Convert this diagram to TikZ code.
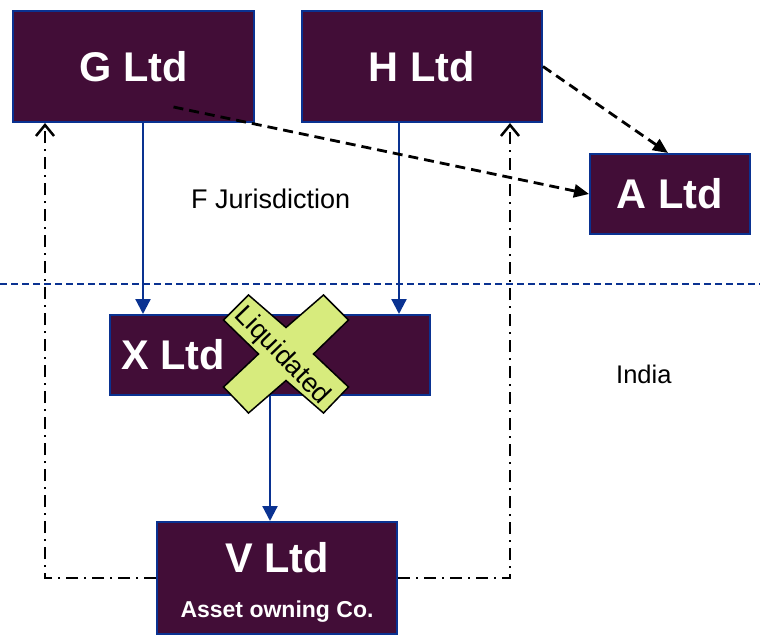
\documentclass[tikz,border=0pt]{standalone}
\usepackage{fontspec}
\setmainfont{Liberation Sans}
\usetikzlibrary{arrows.meta,calc}
\definecolor{boxfill}{RGB}{66,13,55}
\definecolor{navy}{RGB}{10,50,145}
\definecolor{lime}{RGB}{215,235,125}
\begin{document}
\begin{tikzpicture}[x=1pt,y=-1pt,
  entity/.style={draw=navy, line width=2pt, fill=boxfill, text=white,
    font=\fontsize{41.5}{41.5}\selectfont\bfseries, inner sep=0pt},
  own/.style={draw=navy, line width=2.2pt, -{Triangle[length=15pt,width=15pt]}},
  link/.style={black, line width=2.8pt, dash pattern=on 10pt off 6pt,
    -{Triangle[length=15pt,width=13pt]}},
  ctrl/.style={black, line width=2.5pt, dash pattern=on 12pt off 6pt on 2pt off 6pt,
    -{Straight Barb[length=11pt,width=18pt]}},
  note/.style={inner sep=0pt, anchor=base west}]
\useasboundingbox (0,0) rectangle (760,635);

% jurisdiction border
\draw[navy, line width=1.5pt, dash pattern=on 7pt off 4pt] (0,284) coordinate (bl) -- (760,284) coordinate (br);

% companies
\node[entity, minimum width=241pt, minimum height=111pt] (G) at (133.5,66.5) {G Ltd};
\node[entity, minimum width=240pt, minimum height=111pt] (H) at (422,66.5) {H Ltd};
\node[entity, minimum width=160pt, minimum height=80pt] (A) at (670,194) {A Ltd};
\node[entity, minimum width=320pt, minimum height=80pt] (X) at (270,355) {};
\node[text=white, font=\fontsize{41.5}{41.5}\selectfont\bfseries, inner sep=0pt,
  anchor=west] (Xl) at ([xshift=12pt]X.west) {X Ltd};
\node[entity, minimum width=240pt, minimum height=112pt] (V) at (277,578) {};
\node[text=white, font=\fontsize{41.5}{41.5}\selectfont\bfseries, inner sep=0pt]
  (Vl) at ([yshift=20pt]V.center) {V Ltd};
\node[text=white, font=\fontsize{23}{23}\selectfont\bfseries, inner sep=0pt]
  (Vs) at ([yshift=-34pt]V.center) {Asset owning Co.};

% region labels
\node[note, font=\fontsize{27}{27}\selectfont] (F) at (191,208) {F Jurisdiction};
\node[note, font=\fontsize{25.5}{25.5}\selectfont] (In) at (616,383) {India};

% shareholdings
\draw[own] ([xshift=9.5pt]G.south) coordinate (g1) -- (g1 |- X.north);
\draw[own] ([xshift=-23pt]H.south) coordinate (h1) -- (h1 |- X.north);
\draw[own] (X.south) -- (X.south |- V.north);

% other links
\draw[link] ([xshift=40pt,yshift=16pt]G.south) -- (A.west);
\draw[link] (H.east) -- ([xshift=-2pt]A.north);

% control lines from V Ltd
\draw[ctrl] (V.west) -| ([xshift=33pt]G.south west);
\draw[ctrl] (V.east) -| ([xshift=-33pt]H.south east);

% liquidation mark
\coordinate (C) at (286,354);
\begin{scope}[shift={(C)}]
  \filldraw[fill=lime, draw=black, line width=1.5pt, line join=miter]
    (-62.5,-34) -- (-37.5,-59) -- (0,-26.5) -- (37.5,-59) -- (62.5,-34)
    -- (27.5,0) -- (62.5,33) -- (37.5,59) -- (0,26.5) -- (-37.5,59)
    -- (-62.5,33) -- (-27.5,0) -- cycle;
\end{scope}
\node[rotate=-46, font=\fontsize{27}{27}\selectfont, inner sep=0pt] (liq)
  at ([xshift=-4pt,yshift=-2pt]C) {Liquidated};
\end{tikzpicture}
\end{document}
